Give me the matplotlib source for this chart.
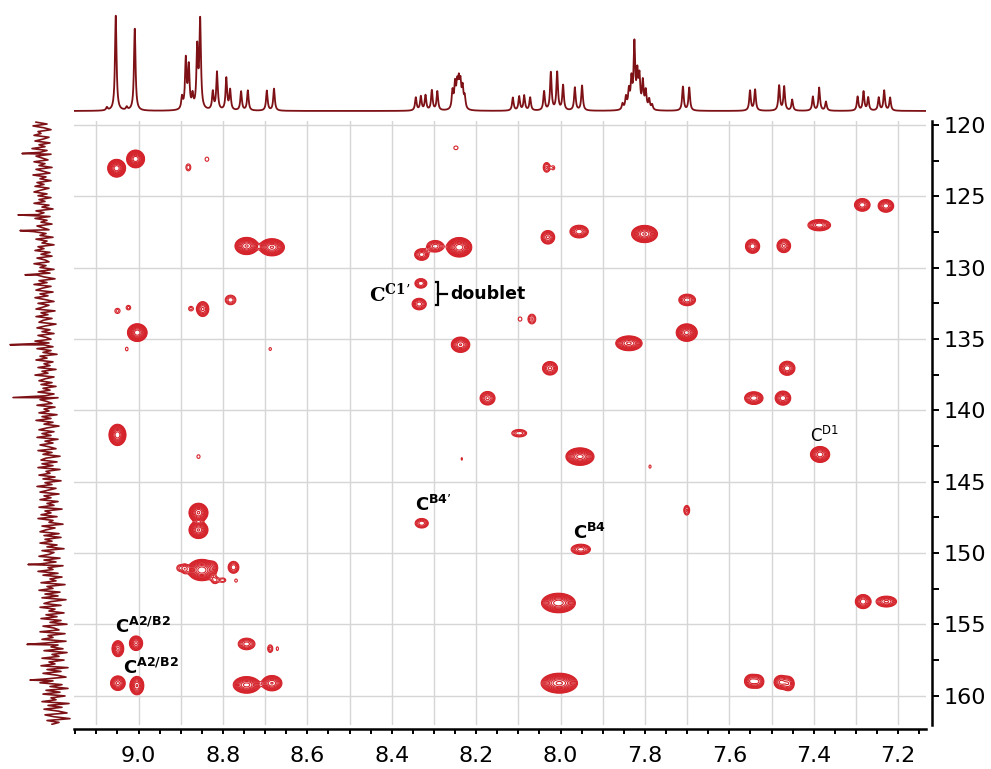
import numpy as np
import matplotlib
matplotlib.use("Agg")
import matplotlib.pyplot as plt
from matplotlib.ticker import MultipleLocator, FuncFormatter

# --- cross peaks: 1H shift, 13C shift, intensity, x-width factor, y-width factor
peak_h = [9.052, 9.007, 8.882, 8.838, 8.744, 8.684, 8.329, 8.297, 8.240, 8.248,
          8.033, 8.017, 8.030, 7.956, 7.801, 7.545, 7.471, 7.387, 7.285, 7.229,
          8.331, 8.335, 9.050, 9.024, 8.876, 8.848, 8.782, 9.003, 9.028, 8.688,
          8.096, 8.068, 7.700, 7.701, 8.237, 7.838, 9.050, 8.858, 8.858, 8.858,
          8.850, 8.902, 8.890, 8.823, 8.819, 8.800, 8.775, 8.769, 9.049, 9.006,
          9.049, 9.004, 8.744, 8.688, 8.671, 8.744, 8.684, 8.329, 8.025, 8.173,
          8.098, 8.234, 7.954, 7.788, 7.701, 7.952, 8.005, 8.003, 7.463, 7.542,
          7.473, 7.385, 7.283, 7.228, 7.548, 7.532, 7.478, 7.460]
peak_c = [123.03, 122.38, 122.97, 122.40, 128.48, 128.57, 129.08, 128.50, 128.57, 121.60,
          122.97, 123.00, 127.87, 127.47, 127.64, 128.50, 128.47, 127.02, 125.60, 125.67,
          131.10, 132.55, 133.03, 132.80, 132.87, 132.90, 132.26, 134.55, 135.70, 135.70,
          133.60, 133.60, 132.26, 134.55, 135.40, 135.30, 141.72, 143.24, 147.17, 148.38,
          151.19, 151.05, 151.10, 150.95, 151.90, 151.90, 151.00, 151.93, 156.70, 156.32,
          159.12, 159.29, 156.37, 156.70, 156.70, 159.24, 159.12, 147.91, 137.05, 139.15,
          141.60, 143.40, 143.24, 143.94, 147.00, 149.74, 153.50, 159.12, 137.05, 139.14,
          139.14, 143.09, 153.40, 153.40, 158.98, 159.00, 159.05, 159.15]
peak_amp = [22, 22, 1.6, 1.3, 18, 18, 5, 5, 22, 1.3,
            2.5, 1.3, 6, 7, 18, 7, 6, 7, 7, 7,
            4, 5, 1.5, 1.5, 1.5, 6, 3, 22, 1.3, 1.25,
            1.3, 2.5, 5, 20, 10, 14, 22, 1.3, 18, 18,
            22, 1.8, 2.5, 2, 2, 1.6, 4, 1.3, 8, 8,
            8, 10, 5, 2, 1.3, 15, 10, 4, 6, 6,
            3, 1.2, 20, 1.3, 2.5, 5, 22, 25, 7, 7,
            7, 12, 7, 6, 6, 5, 6, 5]
peak_ex = [1.0, 1.0, 0.7, 0.7, 1.35, 1.45, 1.1, 1.3, 1.4, 0.8,
           0.7, 0.5, 1.0, 1.3, 1.5, 1.0, 1.0, 1.6, 1.1, 1.1,
           1.0, 1.1, 0.8, 0.7, 0.7, 0.9, 1.0, 1.1, 0.5, 0.5,
           0.7, 0.8, 1.3, 1.2, 1.2, 1.6, 0.95, 0.6, 1.1, 1.1,
           1.6, 0.8, 0.6, 0.8, 0.8, 0.8, 0.9, 0.5, 0.8, 0.9,
           1.0, 0.9, 1.3, 0.6, 0.4, 1.6, 1.3, 1.1, 1.1, 1.1,
           1.4, 0.3, 1.6, 0.4, 0.6, 1.5, 1.9, 2.0, 1.1, 1.3,
           1.1, 1.2, 1.1, 1.5, 1.0, 0.9, 1.0, 0.9]
peak_ey = [1.0, 1.0, 1.0, 0.8, 1.0, 1.0, 0.9, 0.9, 1.1, 0.7,
           1.0, 0.7, 1.0, 0.9, 1.0, 1.0, 1.0, 0.8, 0.9, 0.9,
           0.8, 0.9, 0.8, 0.7, 0.7, 1.1, 0.9, 1.0, 0.7, 0.6,
           0.8, 1.0, 0.9, 1.0, 1.0, 0.9, 1.2, 0.7, 1.1, 1.0,
           1.2, 0.8, 0.9, 1.0, 0.8, 0.6, 1.0, 0.6, 1.1, 1.0,
           1.0, 1.2, 0.9, 0.9, 0.7, 1.0, 1.0, 0.8, 1.0, 1.0,
           0.7, 0.6, 1.0, 0.6, 1.0, 0.8, 1.1, 1.1, 1.0, 0.9,
           1.0, 1.0, 1.0, 0.8, 1.0, 1.0, 1.0, 1.1]

# --- 1H projection (top): line positions (ppm) and heights
h1_pos = [9.075, 9.054, 9.028, 9.009, 8.897, 8.888, 8.881, 8.872, 8.861, 8.854,
          8.824, 8.814, 8.792, 8.783, 8.757, 8.741, 8.696, 8.679,
          8.343, 8.331, 8.320, 8.305, 8.292,
          8.256, 8.250, 8.245, 8.241, 8.237, 8.232, 8.227,
          8.113, 8.098, 8.086, 8.072, 8.039, 8.023, 8.008, 7.994, 7.966, 7.949,
          7.853, 7.845, 7.838, 7.832, 7.825, 7.818, 7.813, 7.805, 7.798, 7.790, 7.783,
          7.710, 7.695, 7.551, 7.539, 7.482, 7.470, 7.451, 7.402, 7.387, 7.371,
          7.296, 7.282, 7.271, 7.246, 7.233, 7.219]
h1_height = [3, 95, 3, 82, 12, 50, 42, 13, 60, 88,
             18, 38, 32, 20, 19, 20, 20, 22,
             13, 14, 15, 20, 19,
             18, 24, 22, 24, 23, 20, 12,
             13, 14, 15, 13, 19, 38, 38, 25, 23, 25,
             6, 12, 18, 28, 64, 33, 30, 27, 18, 10, 5,
             24, 23, 20, 21, 25, 24, 11, 14, 23, 9,
             14, 19, 13, 13, 20, 13]

# --- 13C projection (left): trace values (top to bottom) and a few spikes
c13_trace = [44, 33, 47, 36, 29, 42, 39, 46, 31, 37, 45, 30, 41, 35, 48, 33, 40, 29, 44, 38,
             32, 46, 35, 41, 28, 44, 37, 30, 47, 34, 40, 29, 43, 36, 45, 31, 39, 46, 33, 42,
             29, 41, 35, 46, 31, 38, 27, 44, 36, 42, 30, 45, 33, 39, 28, 43, 37, 31, 46, 34,
             40, 27, 44, 33, 38, 26, 42, 36, 45, 30, 39, 28, 43, 35, 31, 46, 34, 40, 26, 41,
             30, 43, 36, 25, 41, 33, 46, 29, 38, 44, 27, 40, 32, 45, 35, 26, 42, 31, 37, 44,
             25, 39, 32, 44, 28, 37, 41, 24, 35, 43, 30, 38, 26, 42, 34, 29, 45, 31, 36, 27,
             43, 29, 37, 23, 40, 33, 44, 27, 36, 30, 42, 24, 38, 32, 45, 26, 35, 41, 28, 39,
             24, 37, 30, 42, 26, 35, 22, 40, 33, 28, 43, 25, 36, 31, 41, 23, 38, 29, 44, 27,
             36, 21, 33, 41, 26, 38, 29, 43, 22, 35, 27, 40, 31, 24, 42, 28, 37, 20, 34, 39,
             23, 38, 27, 42, 20, 34, 30, 41, 25, 37, 19, 35, 28, 43, 24, 32, 40, 21, 36, 29,
             40, 22, 33, 26, 41, 18, 35, 29, 39, 23, 42, 27, 31, 17, 38, 25, 34, 40, 21, 36,
             19, 35, 28, 40, 23, 33, 16, 38, 26, 31, 41, 20, 36, 24, 39, 17, 32, 27, 42, 22,
             37, 18, 30, 24, 39, 15, 33, 27, 41, 20, 35, 22, 38, 14, 29, 36, 19, 40, 25, 31,
             16, 34, 23, 39, 19, 30, 13, 37, 26, 21, 40, 15, 32, 27, 38, 14, 35, 22, 29, 17,
             36, 13, 28, 21, 38, 16, 31, 25, 39, 12, 33, 19, 37, 23, 14, 35, 27, 40, 18, 30,
             12, 34, 20, 37, 15, 29, 24, 38, 11, 32, 18, 36, 22, 13, 35, 26, 10, 33, 21, 28]
c13_spike_ppm = [122.0, 126.3, 127.4, 130.5, 135.4, 139.1, 150.8, 156.4, 158.9]
c13_spike_val = [58, 62, 60, 55, 70, 67, 52, 53, 50]

XLIM = (9.153, 7.134)
YLIM = (162.05, 119.72)
RED = "#d5232b"
DARK = "#7d1116"

fig = plt.figure(figsize=(9.91, 7.69), dpi=100)
W, H = 991, 769


def px_axes(x0, y0, x1, y1):
    return fig.add_axes([x0 / W, 1 - y1 / H, (x1 - x0) / W, (y1 - y0) / H])


ax = px_axes(74, 121, 926, 725)
ax_top = px_axes(74, 5, 926, 113)
ax_left = px_axes(0, 121, 80, 725)

# 2D contours
xg = np.linspace(XLIM[1], XLIM[0], 1700)
yg = np.linspace(YLIM[1], YLIM[0], 1200)
X, Y = np.meshgrid(xg, yg)
Z = np.zeros_like(X)
sx, sy = 0.0085, 0.25
for h, c, a, ex, ey in zip(peak_h, peak_c, peak_amp, peak_ex, peak_ey):
    Z += a * np.exp(-((X - h) ** 2 / (2 * (sx * ex) ** 2) + (Y - c) ** 2 / (2 * (sy * ey) ** 2)))
levels = np.geomspace(1.0, 40, 14)
ax.contour(X, Y, Z, levels=levels, colors=RED, linewidths=0.8)

ax.set_xlim(*XLIM)
ax.set_ylim(*YLIM)
ax.xaxis.set_major_locator(MultipleLocator(0.1))
ax.xaxis.set_minor_locator(MultipleLocator(0.05))
ax.xaxis.set_major_formatter(FuncFormatter(
    lambda v, p: "%.1f" % v if int(round(v * 10)) % 2 == 0 else ""))
ax.yaxis.set_major_locator(MultipleLocator(5))
ax.yaxis.set_minor_locator(MultipleLocator(2.5))
ax.yaxis.tick_right()
ax.grid(True, which="major", color="#d6d6d6", linewidth=1.0)
ax.set_axisbelow(True)
for s in ["top", "left"]:
    ax.spines[s].set_visible(False)
ax.spines["right"].set_position(("outward", 4.3))
ax.spines["bottom"].set_position(("outward", 2.9))
ax.spines["right"].set_linewidth(1.8)
ax.spines["bottom"].set_linewidth(1.8)
ax.tick_params(axis="x", which="both", direction="out", length=3.8, width=1.4,
               labelsize=16, pad=8.5)
ax.tick_params(axis="y", which="both", direction="out", length=5, width=1.4,
               labelsize=16, pad=3)

# annotations
lab = dict(math_fontfamily="dejavusans", fontsize=13, color="black")
ax.text(9.056, 155.2, r"$\mathbf{C^{A2/B2}}$", ha="left", va="center", **lab)
ax.text(9.037, 158.07, r"$\mathbf{C^{A2/B2}}$", ha="left", va="center", **lab)
ax.text(8.345, 146.6, r"$\mathbf{C^{B4’}}$", ha="left", va="center", **lab)
ax.text(7.970, 148.6, r"$\mathbf{C^{B4}}$", ha="left", va="center", **lab)
ax.text(7.410, 141.76, r"$\mathrm{C^{D1}}$", ha="left", va="center",
        math_fontfamily="dejavusans", fontsize=12, color="black")
ax.text(8.356, 131.85, r"$\mathbf{C^{C1’}}$", ha="right", va="center",
        math_fontfamily="dejavuserif", fontsize=14, color="black")
top_c, bot_c = peak_c[20] - 0.1, peak_c[21] + 0.1
mid_c = (top_c + bot_c) / 2
bx = 8.29
ax.plot([bx + 0.006, bx, bx, bx + 0.006], [top_c, top_c, bot_c, bot_c],
        color="black", lw=1.6, solid_joinstyle="miter")
ax.plot([bx, bx - 0.02], [mid_c, mid_c], color="black", lw=1.6)
ax.text(8.262, 131.85, "doublet", ha="left", va="center", fontsize=12.5,
        fontweight="bold", color="black")

# top 1H projection
xs = np.linspace(XLIM[1], XLIM[0], 6000)
spec = np.zeros_like(xs)
hw = 0.0022
for p, hgt in zip(h1_pos, h1_height):
    spec += hgt * hw ** 2 / ((xs - p) ** 2 + hw ** 2)
ax_top.plot(xs, spec, color=DARK, lw=1.3)
ax_top.set_xlim(*XLIM)
ax_top.set_ylim(-2, 106)
ax_top.axis("off")

# left 13C projection
cppm = list(np.linspace(119.8, 162.0, len(c13_trace)))
cval = list(c13_trace)
pts = sorted(zip(cppm + c13_spike_ppm, cval + c13_spike_val))
ax_left.plot([v for _, v in pts], [p for p, _ in pts], color=DARK, lw=1.2)
ax_left.set_xlim(80, 0)
ax_left.set_ylim(*YLIM)
ax_left.axis("off")

fig.savefig("out.png", dpi=100)
